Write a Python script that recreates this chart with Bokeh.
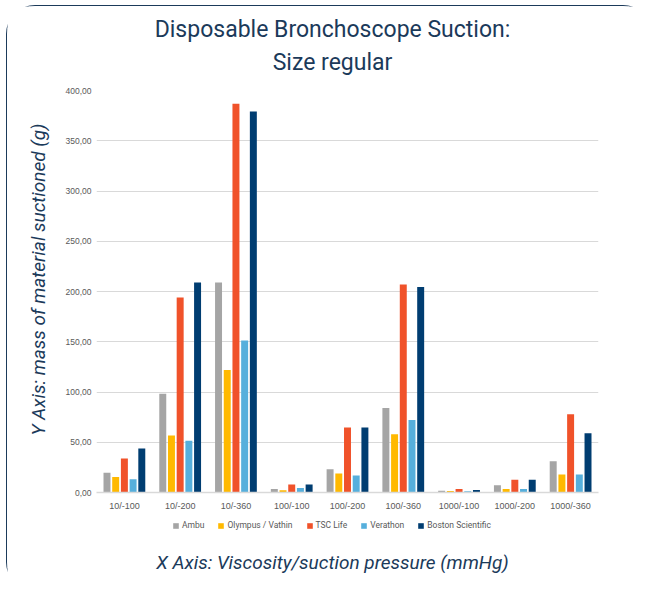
import math
from bokeh.plotting import figure
from bokeh.layouts import column, row
from bokeh.models import (FactorRange, Range1d, ColumnDataSource, FixedTicker, Legend,
                          LegendItem, Label)
from bokeh.transform import dodge
from bokeh.embed import file_html
from bokeh.resources import INLINE

# ---------------- data ----------------
categories = ["10/-100", "10/-200", "10/-360", "100/-100", "100/-200", "100/-360",
              "1000/-100", "1000/-200", "1000/-360"]
ambu = [19.6, 98.2, 209.0, 3.6, 23.2, 84.1, 1.7, 7.3, 31.1]
olympus = [15.3, 56.7, 122.0, 2.3, 18.9, 58.0, 1.5, 3.6, 17.9]
tsc_life = [33.8, 194.0, 386.7, 8.0, 64.6, 207.0, 3.6, 12.6, 77.8]
verathon = [13.3, 51.4, 151.2, 4.6, 16.9, 72.2, 1.3, 3.6, 17.9]
boston = [43.8, 209.0, 379.1, 8.0, 64.6, 204.6, 2.6, 12.6, 58.9]
series_names = ["Ambu", "Olympus / Vathin", "TSC Life", "Verathon", "Boston Scientific"]
y_ticks = [0, 50, 100, 150, 200, 250, 300, 350, 400]
y_tick_labels = ["0,00", "50,00", "100,00", "150,00", "200,00", "250,00", "300,00", "350,00", "400,00"]

title_line1 = "Disposable Bronchoscope Suction:"
title_line2 = "Size regular"
x_title = "X Axis: Viscosity/suction pressure (mmHg)"
y_title = "Y Axis: mass of material suctioned (g)"

# ---------------- style ----------------
colors = ["#A5A5A5", "#FFB900", "#F0522A", "#56AFDC", "#003D71"]
keys = ["ambu", "olympus", "tsc", "verathon", "boston"]
offsets = [-0.312, -0.156, 0.0, 0.156, 0.312]
navy = "#1B3A5A"
gray_text = "#595959"

CARD_W = 644
TOP_H, MID_H, BOT_H = 70, 438, 76
LEFT_W = 55


def blank(w, h):
    f = figure(width=w, height=h, x_range=Range1d(0, 1), y_range=Range1d(0, 1),
               output_backend="svg", toolbar_location=None,
               x_axis_type=None, y_axis_type=None,
               min_border=0, min_border_left=0, min_border_right=0,
               min_border_top=0, min_border_bottom=0)
    f.grid.visible = False
    f.outline_line_color = None
    f.background_fill_color = "white"
    f.border_fill_color = "white"
    return f


def lab(x, y, text, size, style="normal", angle=0.0):
    return Label(x=x, y=y, x_units="screen", y_units="screen", text=text,
                 angle=angle, text_align="center", text_baseline="middle",
                 text_font="Roboto", text_font_style=style, text_font_size=size,
                 text_color=navy)


# ---- title strip ----
p_top = blank(CARD_W, TOP_H)
p_top.add_layout(lab(325, TOP_H - 23, title_line1, "23px"))
p_top.add_layout(lab(325, TOP_H - 55.5, title_line2, "23px"))

# ---- y-title strip ----
p_left = blank(LEFT_W, MID_H)
p_left.add_layout(lab(31, MID_H - 225, y_title, "19px", "italic", math.pi / 2))

# ---- main chart ----
src = ColumnDataSource(dict(cat=categories, ambu=ambu, olympus=olympus, tsc=tsc_life,
                            verathon=verathon, boston=boston))

p = figure(width=CARD_W - LEFT_W, height=MID_H, x_range=FactorRange(*categories),
           y_range=Range1d(0, 400), output_backend="svg", toolbar_location=None,
           min_border_left=34, min_border_right=53, min_border_top=14, min_border_bottom=22)
p.outline_line_color = None
p.background_fill_color = "white"
p.border_fill_color = "white"

for k, off, c in zip(keys, offsets, colors):
    p.vbar(x=dodge("cat", off, range=p.x_range), top=k, width=0.125, source=src,
           fill_color=c, line_color=None)

p.xgrid.grid_line_color = None
p.ygrid.grid_line_color = "#D9D9D9"
p.ygrid.grid_line_width = 1
p.yaxis.ticker = FixedTicker(ticks=y_ticks)
p.yaxis.major_label_overrides = {t: l for t, l in zip(y_ticks, y_tick_labels)}
p.yaxis.axis_line_color = None
p.yaxis.major_tick_line_color = None
p.yaxis.minor_tick_line_color = None
p.yaxis.major_tick_out = 0
p.yaxis.major_tick_in = 0
p.yaxis.major_label_standoff = 5
p.yaxis.major_label_text_font = "Liberation Sans"
p.yaxis.major_label_text_font_size = "8.5px"
p.yaxis.major_label_text_color = gray_text

p.xaxis.axis_line_color = "#D9D9D9"
p.xaxis.axis_line_width = 1.5
p.xaxis.major_tick_line_color = None
p.xaxis.minor_tick_line_color = None
p.xaxis.major_tick_out = 0
p.xaxis.major_tick_in = 0
p.xaxis.major_label_standoff = 8
p.xaxis.major_label_text_font = "Liberation Sans"
p.xaxis.major_label_text_font_size = "9px"
p.xaxis.major_label_text_color = gray_text

# ---- legend + x-title strip ----
p_bot = blank(CARD_W, BOT_H)
# legend swatch renderers (kept outside the visible range of this strip)
swatches = [p_bot.vbar(x=[5], top=[5], width=0.1, fill_color=c, line_color=None) for c in colors]
legend = Legend(items=[LegendItem(label=n, renderers=[r]) for n, r in zip(series_names, swatches)],
                orientation="horizontal", location=(165, BOT_H - 16), padding=3,
                spacing=13, label_standoff=3, glyph_width=7, glyph_height=7,
                label_text_font="Roboto", label_text_font_size="8.5px",
                label_text_color=gray_text, border_line_color=None,
                background_fill_alpha=0)
p_bot.add_layout(legend)
p_bot.add_layout(lab(325, BOT_H - 48, x_title, "19px", "italic"))

card = column(p_top, row(p_left, p), p_bot,
              styles={"margin-left": "7px", "margin-top": "6px",
                      "outline": "1.5px solid " + navy, "border-radius": "28px"})

open("out.html", "w").write(file_html(card, INLINE))
